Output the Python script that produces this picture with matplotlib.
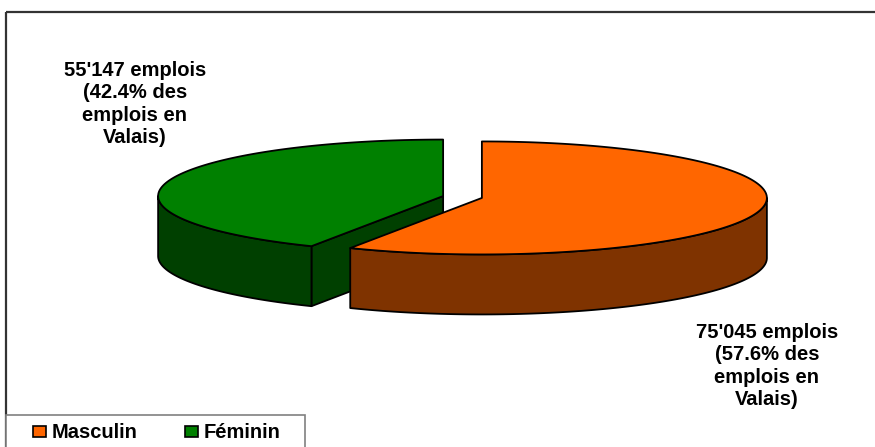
import numpy as np
import matplotlib.pyplot as plt
from matplotlib.patches import Polygon, Rectangle

# Données
categories = ["Masculin", "Féminin"]
emplois = [75045, 55147]
pourcents = [57.6, 42.4]
labels = ["75'045 emplois\n(57.6% des\nemplois en\nValais)",
          "55'147 emplois\n(42.4% des\nemplois en\nValais)"]

# Couleurs (dessus, côté)
top_colors = ["#FF6600", "#008000"]
side_colors = ["#7F3300", "#004000"]

# Géométrie du camembert 3D (en pixels)
W, H = 875, 447
cx, cy = 462.5, 197.0
rx, ry = 285.0, 56.5
depth = 60.0
explode = 0.07

plt.rcParams['font.family'] = ['Liberation Sans', 'DejaVu Sans']

fig = plt.figure(figsize=(W / 100, H / 100), dpi=100)
ax = fig.add_axes([0, 0, 1, 1])
ax.set_xlim(0, W)
ax.set_ylim(H, 0)
ax.axis('off')


def pt(a, ox, oy, dz=0.0):
    r = np.radians(a)
    return ox + rx * np.cos(r), oy - ry * np.sin(r) + dz


def arc(a1, a2, ox, oy, dz=0.0, n=200):
    a = np.linspace(a1, a2, n)
    x, y = pt(a, ox, oy, dz)
    return np.column_stack([x, y])


def front_range(lo, hi):
    # partie de [lo, hi] où le mur extérieur est visible (sin < 0)
    for k in range(-2, 3):
        a, b = 180 + 360 * k, 360 + 360 * k
        s, e = max(lo, a), min(hi, b)
        if e > s:
            return s, e
    return None


fracs = np.array(emplois) / np.sum(emplois)
cum = np.concatenate([[0], np.cumsum(fracs)])
slices = []
for i in range(len(emplois)):
    t1 = 90 - cum[i] * 360
    t2 = 90 - cum[i + 1] * 360
    mid = (t1 + t2) / 2
    ox = cx + explode * rx * np.cos(np.radians(mid))
    oy = cy - explode * ry * np.sin(np.radians(mid))
    slices.append((i, t2, t1, mid, ox, oy))

# ordre de dessin : de l'arrière vers l'avant
slices.sort(key=lambda s: -np.sin(np.radians(s[3])))

ec = 'black'
lw = 1.3
for i, lo, hi, mid, ox, oy in slices:
    # murs radiaux
    for a, nrm in [(lo, lo - 90), (hi, hi + 90)]:
        if np.sin(np.radians(nrm)) < -1e-6:
            px, py = pt(a, ox, oy)
            poly = [(ox, oy), (px, py), (px, py + depth), (ox, oy + depth)]
            ax.add_patch(Polygon(poly, closed=True, fc=side_colors[i],
                                 ec=ec, lw=lw, joinstyle='round'))
    # mur extérieur
    fr = front_range(lo, hi)
    if fr is not None:
        upper = arc(fr[0], fr[1], ox, oy)
        lower = arc(fr[1], fr[0], ox, oy, depth)
        ax.add_patch(Polygon(np.vstack([upper, lower]), closed=True,
                             fc=side_colors[i], ec=ec, lw=lw, joinstyle='round'))
    # dessus
    top = np.vstack([[ox, oy], arc(lo, hi, ox, oy)])
    ax.add_patch(Polygon(top, closed=True, fc=top_colors[i], ec=ec, lw=lw,
                         joinstyle='round'))

# Étiquettes
ax.text(767, 366, labels[0], ha='center', va='center', fontsize=14.5,
        fontweight='bold', linespacing=1.22)
ax.text(135, 104, labels[1], ha='center', va='center', fontsize=14.5,
        fontweight='bold', linespacing=1.22)

# Cadre du graphique
ax.add_patch(Rectangle((6, 12), 1000, 1000, fill=False, ec='#333333', lw=1.6))

# Légende
ax.add_patch(Rectangle((6, 415), 299, 60, fc='white', ec='#808080', lw=1.2))
leg_x = [33, 185]
for i, name in enumerate(categories):
    ax.add_patch(Rectangle((leg_x[i], 426), 13, 11, fc=top_colors[i],
                           ec='black', lw=1.2))
    ax.text(leg_x[i] + 19, 432.5, name, ha='left', va='center',
            fontsize=14.5, fontweight='bold')

fig.savefig('out.png', dpi=100)
